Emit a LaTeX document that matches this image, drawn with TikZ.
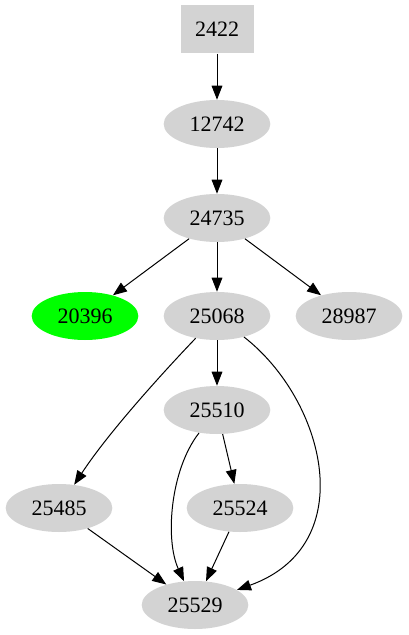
\documentclass[tikz,border=0pt]{standalone}
\usepackage{fontspec}
\setmainfont{Liberation Serif}
\usetikzlibrary{arrows.meta, shapes.geometric}
\definecolor{gvgray}{HTML}{D3D3D3}
\definecolor{gvgreen}{HTML}{00FF00}

\begin{document}
\begin{tikzpicture}[
    x=0.75pt, y=-0.75pt,
    pid/.style={ellipse, fill=gvgray, inner sep=0pt, minimum width=80pt,
                minimum height=36pt, font=\fontsize{16.5}{19}\selectfont},
    root/.style={rectangle, fill=gvgray, inner sep=0pt, minimum width=54.75pt,
                 minimum height=36.5pt, font=\fontsize{16.5}{19}\selectfont},
    edge/.style={-{Triangle[length=10.5pt, width=8pt]}, line width=0.75pt}
  ]
    \useasboundingbox (0,0) rectangle (409,635);
    \node[root] (n2422) at (217, 29) {2422};
    \node[pid] (n12742) at (217, 124) {12742};
    \node[pid] (n24735) at (217, 218) {24735};
    \node[pid, fill=gvgreen] (n20396) at (85, 316) {20396};
    \node[pid] (n25068) at (217, 316) {25068};
    \node[pid] (n28987) at (349, 316) {28987};
    \node[pid] (n25510) at (217, 410) {25510};
    \node[pid] (n25485) at (59, 508) {25485};
    \node[pid] (n25524) at (240, 508) {25524};
    \node[pid] (n25529) at (195, 605) {25529};
    % control points of the bent edges
    \coordinate (c1) at (170, 365);
    \coordinate (c2) at (110, 430);
    \coordinate (c3) at (325, 400);
    \coordinate (c4) at (362, 545);
    \coordinate (c5) at (170, 470);
    \coordinate (c6) at (165, 540);
    \draw[edge] (n2422) -- (n12742);
    \draw[edge] (n12742) -- (n24735);
    \draw[edge] (n24735) -- (n20396);
    \draw[edge] (n24735) -- (n25068);
    \draw[edge] (n24735) -- (n28987);
    \draw[edge] (n25068) .. controls (c1) and (c2) .. (n25485);
    \draw[edge] (n25068) -- (n25510);
    \draw[edge] (n25068) .. controls (c3) and (c4) .. (n25529);
    \draw[edge] (n25510) -- (n25524);
    \draw[edge] (n25510) .. controls (c5) and (c6) .. (n25529);
    \draw[edge] (n25485) -- (n25529);
    \draw[edge] (n25524) -- (n25529);
  \end{tikzpicture}
\end{document}
